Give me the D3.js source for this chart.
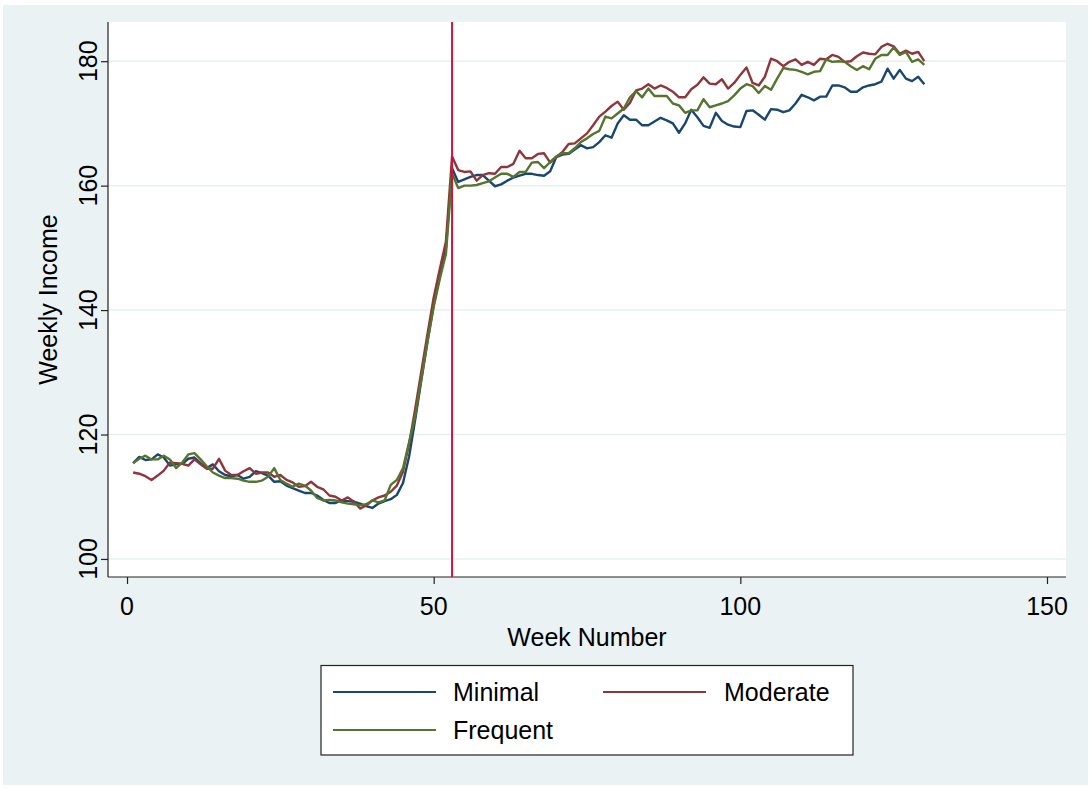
<html>
<head>
  <meta charset="utf-8">
  <title>Weekly Income</title>
  <style type="text/css">
    body { margin: 0; background: #ffffff; }
    text { font-family: "Liberation Sans", Arial, sans-serif; fill: #000; }
    .grid line { stroke: #e6efef; stroke-width: 1.5; }
    .axis path, .axis line { stroke: #222; stroke-width: 1.2; }
    .line { fill: none; stroke-width: 2.4; stroke-linejoin: round; }
  </style>
</head>
<body>
<script src="https://d3js.org/d3.v7.min.js"></script>
<script>
  // weeks 1..130
  var weeks = d3.range(1, 131);

  var minimal = [
    115.4, 116.4, 115.9, 116.0, 116.8, 116.3, 115.0, 115.2, 115.3, 116.1,
    116.3, 115.4, 114.6, 115.2, 114.1, 113.5, 113.3, 113.5, 112.9, 113.2,
    114.1, 113.8, 113.4, 112.4, 112.5, 111.8, 111.4, 111.0, 110.6, 110.6,
    110.2, 109.5, 109.0, 109.0, 109.4, 109.3, 109.2, 108.9, 108.5, 108.2,
    108.9, 109.3, 109.6, 110.3, 112.2, 116.5, 122.5, 128.8, 135.0, 140.8,
    145.5, 150.0, 162.8, 160.6, 161.0, 161.4, 161.7, 161.7, 160.8, 159.9,
    160.2, 160.8, 161.3, 161.6, 161.9, 161.9, 161.7, 161.6, 162.3, 164.6,
    165.0, 165.1, 165.8, 166.5, 166.0, 166.2, 167.0, 168.1, 167.7, 170.0,
    171.3, 170.6, 170.6, 169.7, 169.7, 170.3, 170.9, 170.5, 170.0, 168.5,
    170.0, 172.2, 171.0, 169.6, 169.3, 171.7, 170.4, 169.8, 169.5, 169.4,
    172.0, 172.1, 171.4, 170.6, 172.3, 172.2, 171.8, 172.1, 173.2, 174.6,
    174.2, 173.7, 174.3, 174.3, 176.1, 176.1, 175.8, 175.1, 175.1, 175.8,
    176.1, 176.3, 176.7, 178.8, 177.2, 178.6, 177.2, 176.8, 177.5, 176.3
  ];

  var moderate = [
    113.9, 113.7, 113.3, 112.7, 113.4, 114.2, 115.5, 115.4, 115.3, 115.0,
    116.0, 115.2, 114.5, 114.5, 116.1, 114.2, 113.5, 113.5, 114.1, 114.6,
    113.7, 113.9, 113.9, 113.2, 113.5, 112.7, 112.3, 111.6, 111.7, 112.4,
    111.6, 111.2, 110.2, 110.0, 109.4, 109.9, 109.2, 108.1, 108.6, 109.4,
    109.9, 110.2, 110.8, 111.8, 114.0, 118.5, 124.2, 130.2, 136.2, 142.0,
    146.6, 151.0, 164.7, 162.5, 162.2, 162.3, 160.8, 161.7, 162.0, 161.9,
    163.0, 163.0, 163.5, 165.6, 164.4, 164.4, 165.1, 165.2, 163.7, 164.6,
    165.4, 166.7, 166.8, 167.6, 168.4, 169.7, 171.1, 171.9, 172.8, 173.5,
    172.2, 173.3, 175.3, 175.6, 176.3, 175.6, 176.1, 175.7, 175.1, 174.2,
    174.2, 175.5, 176.2, 177.4, 176.4, 176.3, 177.1, 175.6, 176.5, 177.8,
    179.0, 176.5, 176.1, 177.5, 180.4, 180.0, 179.2, 179.9, 180.3, 179.4,
    179.9, 179.4, 180.4, 180.3, 181.0, 180.7, 179.9, 180.0, 180.8, 181.4,
    181.2, 181.1, 182.3, 182.8, 182.4, 181.2, 181.7, 181.2, 181.5, 180.0
  ];

  var frequent = [
    115.4, 116.1, 116.6, 116.0, 116.0, 116.6, 116.0, 114.6, 115.5, 116.8,
    117.0, 116.0, 114.9, 113.9, 113.4, 113.0, 113.0, 112.9, 112.6, 112.4,
    112.4, 112.6, 113.2, 114.6, 112.7, 112.1, 111.6, 112.1, 111.8, 111.0,
    109.8, 109.4, 109.5, 109.4, 109.1, 108.9, 108.8, 108.6, 108.8, 109.4,
    109.1, 109.4, 111.9, 112.7, 114.6, 118.8, 123.0, 129.0, 135.0, 140.5,
    145.0, 149.0, 162.0, 159.6, 160.0, 160.0, 160.1, 160.4, 160.7, 161.3,
    161.9, 161.9, 161.4, 162.2, 162.2, 163.7, 163.8, 162.8, 163.8, 164.7,
    165.2, 165.2, 166.0, 167.0, 167.6, 168.3, 168.8, 171.1, 170.8, 171.6,
    172.4, 174.2, 175.2, 174.2, 175.6, 174.4, 174.4, 174.4, 173.2, 172.9,
    171.7, 172.1, 172.1, 173.9, 172.6, 172.9, 173.2, 173.6, 174.5, 175.6,
    176.3, 176.0, 174.9, 176.0, 175.4, 177.2, 178.9, 178.7, 178.6, 178.3,
    177.9, 178.3, 178.4, 180.3, 179.9, 180.0, 179.9, 179.2, 178.6, 179.2,
    178.7, 180.4, 181.0, 181.0, 182.2, 181.0, 181.5, 179.9, 180.3, 179.4
  ];

  var seriesNames = ["Minimal", "Moderate", "Frequent"];
  var seriesColors = ["#1a476f", "#90353b", "#55752f"];
  var xTicks = [0, 50, 100, 150];
  var yTicks = [100, 120, 140, 160, 180];
  var markerWeek = 53;

  var W = 1091, H = 789;
  var plot = { left: 108, right: 1066, top: 22, bottom: 577 };

  var svg = d3.select("body").append("svg")
    .attr("width", W)
    .attr("height", H);

  // outer region
  svg.append("rect")
    .attr("x", 3).attr("y", 5)
    .attr("width", W - 6).attr("height", H - 9)
    .attr("fill", "#eaf2f3");

  // plot region
  svg.append("rect")
    .attr("x", plot.left).attr("y", plot.top)
    .attr("width", plot.right - plot.left).attr("height", plot.bottom - plot.top)
    .attr("fill", "#ffffff");

  var xScale = d3.scaleLinear()
    .domain([-3.1, 153.1])
    .range([plot.left, plot.right]);

  var yScale = d3.scaleLinear()
    .domain([97.1, 186.3])
    .range([plot.bottom, plot.top]);

  // gridlines
  svg.append("g")
    .attr("class", "grid")
    .selectAll("line")
    .data(yTicks)
    .enter()
    .append("line")
    .attr("x1", plot.left)
    .attr("x2", plot.right)
    .attr("y1", function (d) { return yScale(d); })
    .attr("y2", function (d) { return yScale(d); });

  // axes
  var yAxis = svg.append("g")
    .attr("class", "axis")
    .attr("transform", "translate(" + plot.left + ",0)")
    .call(d3.axisLeft(yScale).tickValues(yTicks).tickSize(7).tickSizeOuter(0));
  yAxis.selectAll("text").remove();
  yAxis.select(".domain").attr("d", "M0," + plot.bottom + "V" + plot.top);

  var xAxis = svg.append("g")
    .attr("class", "axis")
    .attr("transform", "translate(0," + plot.bottom + ")")
    .call(d3.axisBottom(xScale).tickValues(xTicks).tickSize(7).tickSizeOuter(0));
  xAxis.selectAll("text").remove();
  xAxis.select(".domain").attr("d", "M" + plot.left + ",0H" + plot.right);

  // tick labels
  svg.append("g").selectAll("text")
    .data(yTicks)
    .enter()
    .append("text")
    .attr("transform", function (d) { return "translate(97," + yScale(d) + ") rotate(-90)"; })
    .attr("text-anchor", "middle")
    .style("font-size", "25px")
    .text(function (d) { return d; });

  svg.append("g").selectAll("text")
    .data(xTicks)
    .enter()
    .append("text")
    .attr("x", function (d) { return xScale(d); })
    .attr("y", 615)
    .attr("text-anchor", "middle")
    .style("font-size", "25px")
    .text(function (d) { return d; });

  // axis titles
  svg.append("text")
    .attr("transform", "translate(57," + ((plot.top + plot.bottom) / 2) + ") rotate(-90)")
    .attr("text-anchor", "middle")
    .style("font-size", "25px")
    .text("Weekly Income");

  svg.append("text")
    .attr("x", (plot.left + plot.right) / 2)
    .attr("y", 646)
    .attr("text-anchor", "middle")
    .style("font-size", "25px")
    .text("Week Number");

  // lines
  var line = d3.line()
    .x(function (d, i) { return xScale(weeks[i]); })
    .y(function (d) { return yScale(d); });

  var allSeries = [minimal, moderate, frequent];
  allSeries.forEach(function (s, k) {
    svg.append("path")
      .datum(s)
      .attr("class", "line")
      .attr("stroke", seriesColors[k])
      .attr("d", line);
  });

  // vertical marker
  svg.append("line")
    .attr("x1", xScale(markerWeek))
    .attr("x2", xScale(markerWeek))
    .attr("y1", plot.top)
    .attr("y2", plot.bottom)
    .attr("stroke", "#d2103f")
    .attr("stroke-width", 2);

  // legend
  var legend = svg.append("g");
  legend.append("rect")
    .attr("x", 321).attr("y", 665.5)
    .attr("width", 532).attr("height", 89.5)
    .attr("fill", "#ffffff")
    .attr("stroke", "#222")
    .attr("stroke-width", 1.2);

  var legendPos = [
    { x: 333, y: 692, tx: 453, ty: 701 },
    { x: 603, y: 692, tx: 724, ty: 701 },
    { x: 333, y: 730, tx: 453, ty: 739 }
  ];
  legendPos.forEach(function (p, k) {
    legend.append("line")
      .attr("x1", p.x).attr("x2", p.x + 103)
      .attr("y1", p.y).attr("y2", p.y)
      .attr("stroke", seriesColors[k])
      .attr("stroke-width", 2);
    legend.append("text")
      .attr("x", p.tx).attr("y", p.ty)
      .style("font-size", "25px")
      .text(seriesNames[k]);
  });
</script>
</body>
</html>
